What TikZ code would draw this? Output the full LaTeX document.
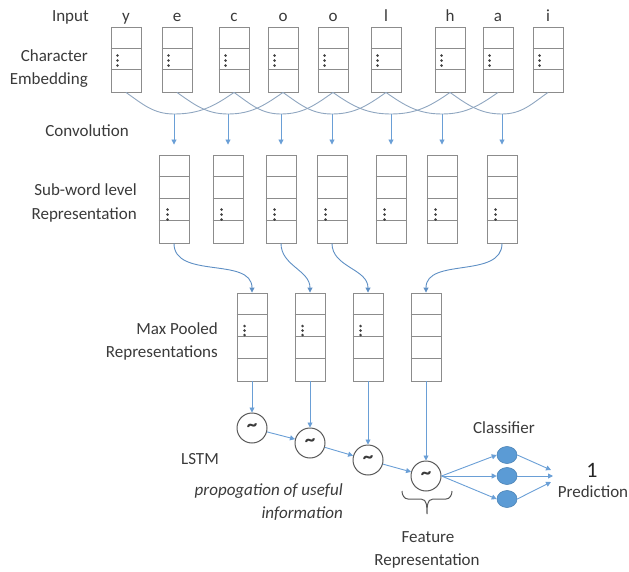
\documentclass[tikz,border=0pt]{standalone}
\usepackage{fontspec}
\setmainfont{Carlito}
\usetikzlibrary{arrows.meta,shapes.geometric,calc}
\definecolor{tcol}{HTML}{3A3A3A}
\definecolor{boxcol}{HTML}{8C8C8C}
\definecolor{convcol}{HTML}{8FA6C0}
\definecolor{arrcol}{HTML}{6A9FD6}
\definecolor{curvcol}{HTML}{5E8FC4}
\definecolor{circcol}{HTML}{595959}
\definecolor{fillcol}{HTML}{5B9BD5}
\definecolor{dotcol}{HTML}{404040}
\begin{document}
\begin{tikzpicture}[x=1pt,y=1pt,
  txt/.style={text=tcol,font=\fontsize{17}{23}\selectfont,inner sep=0pt},
  itxt/.style={text=tcol,font=\fontsize{17}{23}\selectfont\itshape,inner sep=0pt},
  cellbox/.style={draw=boxcol,line width=0.9pt,minimum width=30pt,inner sep=0pt},
  boxline/.style={draw=boxcol,line width=0.9pt},
  convline/.style={draw=convcol,line width=0.9pt},
  arr/.style={draw=arrcol,line width=0.9pt,-{Triangle[length=5pt,width=5pt]}},
  arrc/.style={draw=curvcol,line width=0.9pt,-{Triangle[length=5pt,width=5pt]}},
  lstm/.style={circle,draw=circcol,line width=1pt,minimum size=30pt,inner sep=0pt,text=tcol,font=\fontsize{21}{22}\selectfont\bfseries},
  cls/.style={ellipse,fill=fillcol,draw=fillcol!85!black,line width=0.6pt,minimum width=20pt,minimum height=17pt,inner sep=0pt}
]
\useasboundingbox (0,0) rectangle (629,-572);

% character embedding boxes
\foreach \i/\x/\ch in {1/126/y,2/177/e,3/234/c,4/283/o,5/333/o,6/386/l,7/450/h,8/498/a,9/548/i} {
  \node[cellbox,minimum height=65pt] (c\i) at (\x,-59.5) {};
  \node[txt,anchor=base] (ch\i) at (\x,-22) {\ch};
  \foreach \d in {21.67,43.33}
    \draw[boxline] ([yshift=-\d]c\i.north west) -- ([yshift=-\d]c\i.north east);
  \foreach \d in {29,34,39}
    \fill[dotcol] ([xshift=7,yshift=-\d]c\i.north west) circle (1.4pt);
}

% sub-word boxes
\foreach \i/\x in {1/174,2/228,3/281,4/332,5/391,6/442,7/502} {
  \node[cellbox,minimum height=88pt] (s\i) at (\x,-199) {};
  \foreach \d in {22,44,66}
    \draw[boxline] ([yshift=-\d]s\i.north west) -- ([yshift=-\d]s\i.north east);
  \foreach \d in {55,60,65}
    \fill[dotcol] ([xshift=9,yshift=-\d]s\i.north west) circle (1.4pt);
  \coordinate (u\i) at (\x,-114);
  \draw[arr,shorten >=10pt] (u\i) -- (s\i.north);
}

% convolution curves
\foreach \i [evaluate=\i as \j using int(\i+2)] in {1,...,7}
  \draw[convline] (c\i.south) to[out=-35,in=180] (u\i) to[out=0,in=-145] (c\j.south);

% max pooled boxes
\foreach \i/\x in {1/252,2/310,3/368,4/426} {
  \node[cellbox,minimum height=88pt] (m\i) at (\x,-337) {};
  \foreach \d in {22,44,66}
    \draw[boxline] ([yshift=-\d]m\i.north west) -- ([yshift=-\d]m\i.north east);
}
\foreach \i in {1,2,3}
  \foreach \d in {33.5,38,42.5}
    \fill[dotcol] ([xshift=8,yshift=-\d]m\i.north west) circle (1.4pt);

% pooling curves
\draw[arrc] (s1.south) to[out=-90,in=90] (m1.north);
\draw[arrc] (s3.south) to[out=-90,in=90] (m2.north);
\draw[arrc] (s4.south) to[out=-90,in=90] (m3.north);
\draw[arrc] (s7.south) to[out=-90,in=90] (m4.north);

% LSTM cells
\foreach \i/\x/\y in {1/252/428,2/310/443,3/368/460,4/426/476} {
  \node[lstm] (L\i) at (\x,-\y) {\raisebox{1pt}{\textasciitilde}};
  \draw[arr] (m\i.south) -- (L\i.north);
}
\draw[arr] (L1) -- (L2);
\draw[arr] (L2) -- (L3);
\draw[arr] (L3) -- (L4);

% classifier
\node[cls] (K1) at (507,-455) {};
\node[cls] (K2) at (507,-476) {};
\node[cls] (K3) at (507,-499) {};
\foreach \k in {1,2,3}
  \draw[arr] (L4.east) -- (K\k.west);
\coordinate (P1) at (551,-470);
\coordinate (P2) at (553,-476);
\coordinate (P3) at (551,-482);
\foreach \k in {1,2,3}
  \draw[arr] (K\k.east) -- (P\k);

% brace
\draw[circcol,line width=1pt] (402,-491) to[out=-90,in=180] (408,-499) -- (421,-499)
  to[out=0,in=90] (427,-514) to[out=90,in=180] (433,-499) -- (446,-499) to[out=0,in=-90] (452,-491);

% labels
\node[txt,anchor=base east] (lin) at (89,-22) {Input};
\node[txt,anchor=base east] (lce1) at (88,-62) {Character};
\node[txt,anchor=base east] (lce2) at (88,-85) {Embedding};
\node[txt,anchor=base east] (lconv) at (129,-137) {Convolution};
\node[txt,anchor=base east] (lsw1) at (137,-196) {Sub-word level};
\node[txt,anchor=base east] (lsw2) at (137,-219) {Representation};
\node[txt,anchor=base east] (lmp1) at (218,-334) {Max Pooled};
\node[txt,anchor=base east] (lmp2) at (218,-357) {Representations};
\node[txt,anchor=base east] (llstm) at (219,-464) {LSTM};
\node[itxt,anchor=base east] (lprop1) at (343,-495) {propogation of useful};
\node[itxt,anchor=base east] (lprop2) at (343,-518) {information};
\node[txt,anchor=base] (lcls) at (504,-433) {Classifier};
\node[txt,anchor=base,font=\fontsize{22}{26}\selectfont,text=black!85] (lone) at (592,-477) {1};
\node[txt,anchor=base] (lpred) at (593,-497) {Prediction};
\node[txt,anchor=base] (lfeat1) at (428,-542) {Feature};
\node[txt,anchor=base] (lfeat2) at (427,-565) {Representation};
\end{tikzpicture}
\end{document}
